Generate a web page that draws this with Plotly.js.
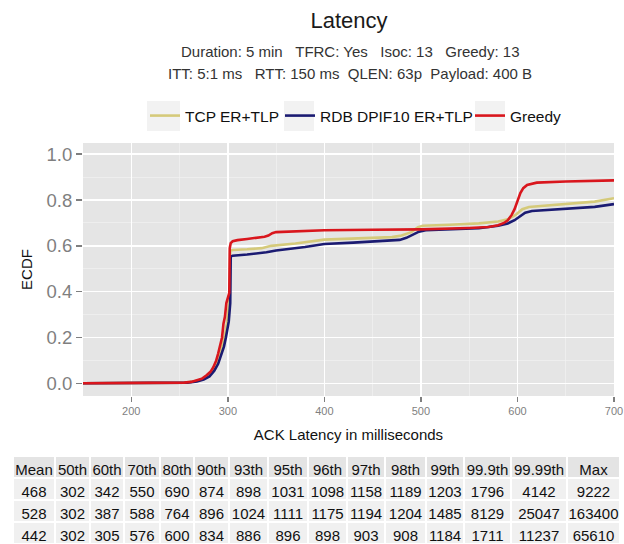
<!DOCTYPE html>
<html>
<head>
<meta charset="utf-8">
<script src="https://cdn.plot.ly/plotly-3.0.1.min.js"></script>
<style>html,body{margin:0;padding:0;background:#fff;}#chart{width:624px;height:544px;}</style>
</head>
<body>
<div id="chart"></div>
<script>
// ---- Data ----
var seriesNames = ['TCP ER+TLP', 'RDB DPIF10 ER+TLP', 'Greedy'];

var tcpX = [150, 240, 255, 265, 272, 278, 283, 287, 290, 293, 295, 297, 299, 300, 301, 302, 302.5, 305, 320, 335, 345, 370, 400, 440, 470, 480, 490, 497, 502, 530, 560, 580, 590, 598, 605, 612, 650, 680, 700];
var tcpY = [0, 0.001, 0.003, 0.008, 0.015, 0.028, 0.05, 0.075, 0.1, 0.14, 0.17, 0.21, 0.26, 0.3, 0.33, 0.38, 0.578, 0.582, 0.585, 0.59, 0.6, 0.61, 0.627, 0.633, 0.638, 0.645, 0.66, 0.682, 0.688, 0.692, 0.698, 0.706, 0.716, 0.735, 0.76, 0.77, 0.782, 0.793, 0.808];

var rdbX = [150, 245, 258, 268, 275, 281, 286, 290, 293, 296, 298, 300, 301, 302.5, 303, 305, 320, 340, 350, 380, 400, 430, 460, 478, 485, 492, 498, 505, 530, 560, 580, 590, 597, 603, 608, 615, 650, 680, 700];
var rdbY = [0, 0.001, 0.003, 0.008, 0.016, 0.03, 0.055, 0.085, 0.12, 0.16, 0.2, 0.24, 0.27, 0.35, 0.553, 0.557, 0.562, 0.572, 0.58, 0.595, 0.608, 0.614, 0.62, 0.626, 0.635, 0.648, 0.662, 0.668, 0.672, 0.677, 0.688, 0.698, 0.712, 0.73, 0.745, 0.752, 0.76, 0.77, 0.782];

var greedyX = [150, 240, 255, 262, 268, 273, 278, 282, 285, 288, 290, 292, 294, 295.5, 297, 298.5, 300, 301.5, 302, 303, 305, 310, 320, 330, 338, 342, 346, 350, 370, 400, 450, 500, 550, 570, 580, 586, 590, 594, 597, 600, 603, 606, 610, 620, 650, 700];
var greedyY = [0, 0.001, 0.003, 0.006, 0.012, 0.02, 0.035, 0.05, 0.07, 0.1, 0.13, 0.16, 0.2, 0.26, 0.29, 0.35, 0.38, 0.395, 0.59, 0.612, 0.62, 0.625, 0.63, 0.635, 0.64, 0.645, 0.655, 0.66, 0.664, 0.668, 0.67, 0.672, 0.678, 0.682, 0.69, 0.7, 0.712, 0.735, 0.76, 0.795, 0.83, 0.852, 0.866, 0.876, 0.881, 0.886];

var xTicks = [200, 300, 400, 500, 600, 700];
var yTicks = [0, 0.2, 0.4, 0.6, 0.8, 1.0];

var tableHeader = ['Mean', '50th', '60th', '70th', '80th', '90th', '93th', '95th', '96th', '97th', '98th', '99th', '99.9th', '99.99th', 'Max'];
var tableRow1 = [468, 302, 342, 550, 690, 874, 898, 1031, 1098, 1158, 1189, 1203, 1796, 4142, 9222];
var tableRow2 = [528, 302, 387, 588, 764, 896, 1024, 1111, 1175, 1194, 1204, 1485, 8129, 25047, 163400];
var tableRow3 = [442, 302, 305, 576, 600, 834, 886, 896, 898, 903, 908, 1184, 1711, 11237, 65610];

// ---- Styling ----
var W = 624, H = 544;
function px(x) { return x / W; }
function py(y) { return 1 - y / H; }
var FONT = 'Liberation Sans, Arial, Helvetica, sans-serif';
var colors = ['#d5ca7a', '#1b1b72', '#d9161d'];
var legendIds = ['legend', 'legend2', 'legend3'];
var legendLeft = [145, 280, 470];
var keyBoxes = [[147, 180], [284, 314], [475, 505]];

var traces = [
  {x: tcpX, y: tcpY, name: seriesNames[0]},
  {x: rdbX, y: rdbY, name: seriesNames[1]},
  {x: greedyX, y: greedyY, name: seriesNames[2]}
].map(function (t, i) {
  t.type = 'scatter';
  t.mode = 'lines';
  t.line = {color: colors[i], width: 2.6};
  t.hoverinfo = 'skip';
  t.legend = legendIds[i];
  return t;
});

var rows = [tableRow1, tableRow2, tableRow3];
var columns = tableHeader.map(function (_, c) {
  return rows.map(function (r) { return String(r[c]); });
});

traces.push({
  type: 'table',
  domain: {x: [px(13), px(620)], y: [0, py(456)]},
  columnwidth: [42, 35, 34, 36, 34, 35, 39, 40, 39, 38, 41, 38, 47, 56, 53],
  header: {
    values: tableHeader,
    align: 'center',
    height: 22,
    fill: {color: '#e4e4e4'},
    line: {color: '#ffffff', width: 1.5},
    font: {family: FONT, size: 15, color: '#111111'}
  },
  cells: {
    values: columns,
    align: 'center',
    height: 22,
    fill: {color: '#f0f0f0'},
    line: {color: '#ffffff', width: 1.5},
    font: {family: FONT, size: 15, color: '#111111'}
  }
});

var sub1 = 'Duration: 5 min\u00a0\u00a0\u00a0TFRC: Yes\u00a0\u00a0\u00a0Isoc: 13\u00a0\u00a0\u00a0Greedy: 13';
var sub2 = 'ITT: 5:1 ms\u00a0\u00a0\u00a0RTT: 150 ms\u00a0\u00a0QLEN: 63p\u00a0\u00a0Payload: 400 B';

function legendSpec(left) {
  return {
    orientation: 'h',
    x: px(left), xanchor: 'left',
    y: py(99), yanchor: 'top',
    bgcolor: 'rgba(0,0,0,0)',
    font: {family: FONT, size: 15.5, color: '#111111'},
    itemwidth: 30
  };
}

var layout = {
  width: W, height: H,
  margin: {l: 0, r: 0, t: 0, b: 0},
  paper_bgcolor: '#ffffff',
  plot_bgcolor: '#e5e5e5',
  font: {family: FONT, color: '#222222'},
  showlegend: true,
  title: {
    text: 'Latency',
    x: px(349), xanchor: 'center', xref: 'paper',
    y: py(20), yanchor: 'middle', yref: 'paper',
    font: {family: FONT, size: 22, color: '#1a1a1a'}
  },
  annotations: [
    {text: sub1, x: px(350), y: py(51), xref: 'paper', yref: 'paper', showarrow: false,
     xanchor: 'center', yanchor: 'middle', font: {family: FONT, size: 15, color: '#333333'}},
    {text: sub2, x: px(350), y: py(74), xref: 'paper', yref: 'paper', showarrow: false,
     xanchor: 'center', yanchor: 'middle', font: {family: FONT, size: 15, color: '#333333'}}
  ],
  legend: legendSpec(legendLeft[0]),
  legend2: legendSpec(legendLeft[1]),
  legend3: legendSpec(legendLeft[2]),
  shapes: keyBoxes.map(function (b) {
    return {type: 'rect', xref: 'paper', yref: 'paper', x0: px(b[0]), x1: px(b[1]), y0: py(101), y1: py(131),
            fillcolor: '#f2f2f2', line: {width: 0}, layer: 'below'};
  }),
  xaxis: {
    domain: [px(83), px(614)],
    range: [150, 700],
    tickmode: 'array', tickvals: xTicks,
    ticks: 'outside', ticklen: 5, tickwidth: 1.5, tickcolor: '#7f7f7f',
    tickfont: {family: FONT, size: 11, color: '#7f7f7f'},
    showgrid: true, gridcolor: '#ffffff', gridwidth: 1.5,
    minor: {tickmode: 'array', tickvals: [150, 250, 350, 450, 550, 650], showgrid: true, gridcolor: '#f2f2f2', gridwidth: 0.7, ticks: ''},
    zeroline: false, showline: false, automargin: false, fixedrange: true,
    title: {text: 'ACK Latency in milliseconds', standoff: 13, font: {family: FONT, size: 15, color: '#111111'}}
  },
  yaxis: {
    domain: [1 - 396 / H, 1 - 143 / H],
    range: [-0.0555, 1.049],
    tickmode: 'array', tickvals: yTicks, tickformat: '.1f',
    ticks: 'outside', ticklen: 6, tickwidth: 1.5, tickcolor: '#7f7f7f',
    tickfont: {family: FONT, size: 18.5, color: '#7f7f7f'},
    showgrid: true, gridcolor: '#ffffff', gridwidth: 1.5,
    minor: {tickmode: 'array', tickvals: [0.1, 0.3, 0.5, 0.7, 0.9], showgrid: true, gridcolor: '#f2f2f2', gridwidth: 0.7, ticks: ''},
    zeroline: false, showline: false, automargin: false, fixedrange: true,
    title: {text: 'ECDF', standoff: 10, font: {family: FONT, size: 15, color: '#111111'}}
  }
};

Plotly.newPlot('chart', traces, layout, {staticPlot: true, displayModeBar: false});
</script>
</body>
</html>
